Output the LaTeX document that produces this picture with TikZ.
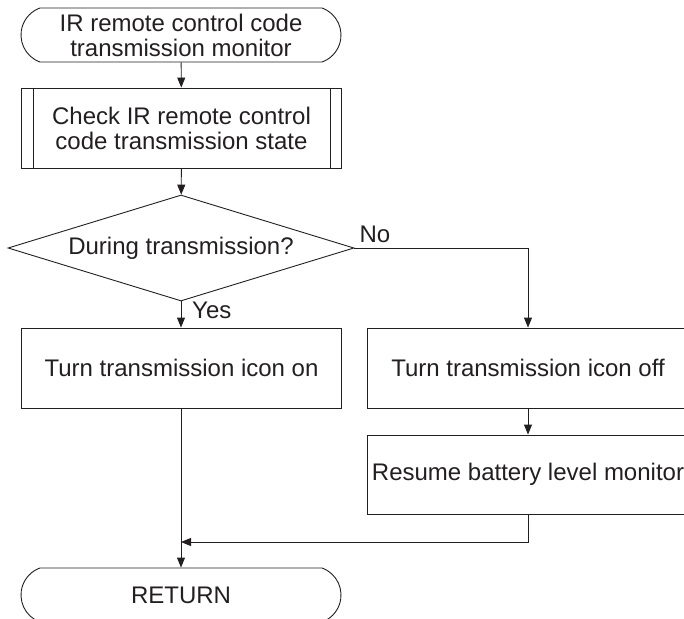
\documentclass[tikz,border=0pt]{standalone}
\usepackage{fontspec}
\setmainfont{Liberation Sans}
\usetikzlibrary{arrows.meta,shapes.geometric,shapes.misc}
\definecolor{ink}{RGB}{35,31,32}

\begin{document}
\begin{tikzpicture}[x=1pt,y=-1pt,
    txt/.style={font=\fontsize{24pt}{25pt}\selectfont,text=ink,inner sep=0pt},
    term/.style={txt,draw=ink,line width=0.9pt,rounded rectangle,rounded rectangle arc length=140,minimum width=320pt,minimum height=54pt,align=center},
    proc/.style={txt,draw=ink,line width=0.9pt,rectangle,minimum width=320pt,minimum height=80pt,align=center},
    dec/.style={txt,draw=ink,line width=0.9pt,diamond,aspect=3.26,minimum width=346pt,minimum height=106pt},
    flow/.style={draw=ink,line width=0.9pt,-{Triangle[length=10pt,width=8pt]}}]
    \useasboundingbox (0,0) rectangle (684,618);

    \node[term] (start) at (181,35) {IR remote control code\\transmission monitor};
    \node[proc] (chk) at (181.5,128) {Check IR remote control\\code transmission state};
    \draw[draw=ink,line width=0.9pt] ([xshift=12pt]chk.north west) -- ([xshift=12pt]chk.south west);
    \draw[draw=ink,line width=0.9pt] ([xshift=-12pt]chk.north east) -- ([xshift=-12pt]chk.south east);
    \node[dec] (dec) at (181,248) {During transmission?};

    \node[proc] (on) at (181.5,368) {Turn transmission icon on};
    \node[proc,minimum width=322pt] (off) at (528,368) {Turn transmission icon off};
    \node[proc,minimum width=322pt,minimum height=79pt] (res) at (528,474.5) {Resume battery level monitor};
    \node[term] (ret) at (181,595) {RETURN};
    \coordinate (mrg) at (181,542);

    \draw[flow] (start) -- (chk);
    \draw[flow] (chk) -- (dec);
    \draw[flow] (dec.south) -- (dec.south |- on.north);
    \node[txt,anchor=base west] (yes) at ([xshift=11pt,yshift=-17pt]dec.south) {Yes};
    \draw[flow] (dec.east) -| (off.north);
    \node[txt,anchor=base west] (no) at ([xshift=5pt,yshift=6pt]dec.east) {No};
    \draw[flow] (off) -- (res);
    \draw[flow] (on.south -| dec.south) -- (ret.north -| dec.south);
    \draw[flow] (res.south) |- (mrg);
\end{tikzpicture}
\end{document}
